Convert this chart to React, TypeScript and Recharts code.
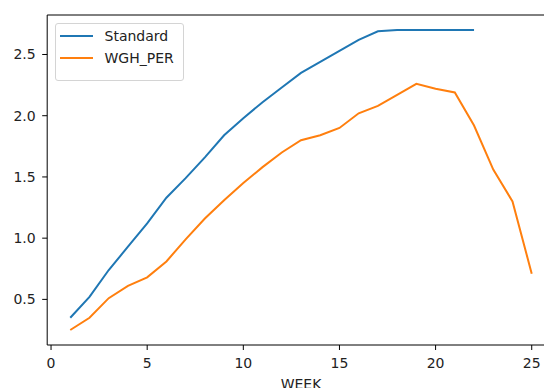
import React from "react";
import { LineChart, Line, XAxis, YAxis, Legend, ReferenceLine } from "recharts";

const weeks = [1, 2, 3, 4, 5, 6, 7, 8, 9, 10, 11, 12, 13, 14, 15, 16, 17, 18, 19, 20, 21, 22, 23, 24, 25];
const standard = [0.35, 0.52, 0.74, 0.93, 1.12, 1.33, 1.49, 1.66, 1.84, 1.98, 2.11, 2.23, 2.35, 2.44, 2.53, 2.62, 2.69, 2.7, 2.7, 2.7, 2.7, 2.7];
const wghPer = [0.25, 0.35, 0.51, 0.61, 0.68, 0.81, 0.99, 1.16, 1.31, 1.45, 1.58, 1.7, 1.8, 1.84, 1.9, 2.02, 2.08, 2.17, 2.26, 2.22, 2.19, 1.92, 1.56, 1.3, 0.71];
const xTicks = [0, 5, 10, 15, 20, 25];
const yTicks = [0.5, 1.0, 1.5, 2.0, 2.5];

const data = weeks.map((w, i) => ({
  WEEK: w,
  Standard: i < standard.length ? standard[i] : null,
  WGH_PER: wghPer[i],
}));

const FONT = "'DejaVu Sans', sans-serif";
const TEXT = "#222";
const Y_MIN = 0.1275;
const Y_MAX = 2.8225;

const LegendBox = (props: any) => {
  const payload = props.payload || [];
  return (
    <div
      style={{
        width: 129,
        height: 58,
        boxSizing: "border-box",
        border: "1px solid #d4d4d4",
        borderRadius: 3,
        background: "rgba(255,255,255,0.8)",
        paddingTop: 1.5,
        fontFamily: FONT,
        fontSize: 14,
        color: TEXT,
      }}
    >
      {payload.map((p: any) => (
        <div key={p.value} style={{ display: "flex", alignItems: "center", height: 21.6 }}>
          <span style={{ display: "inline-block", marginLeft: 4, width: 33, height: 2, background: p.color }} />
          <span style={{ marginLeft: 11.5, lineHeight: "16px" }}>{p.value}</span>
        </div>
      ))}
    </div>
  );
};

export default function App() {
  return (
    <div style={{ position: "fixed", left: 0, top: 0, width: 544, height: 388, overflow: "hidden", background: "#fff" }}>
      <LineChart
        width={570}
        height={388}
        data={data}
        margin={{ top: 15, right: 15.2, bottom: 0, left: 0 }}
      >
        <XAxis
          dataKey="WEEK"
          type="number"
          domain={[-0.2, 26.2]}
          ticks={xTicks}
          allowDataOverflow
          height={43}
          stroke="#000"
          tickSize={5}
          tickMargin={8.5}
          tick={{ fill: TEXT, fontSize: 14, fontFamily: FONT }}
          label={{ value: "WEEK", position: "insideBottom", offset: -0.5, fill: TEXT, fontSize: 14, fontFamily: FONT }}
        />
        <YAxis
          type="number"
          domain={[Y_MIN, Y_MAX]}
          ticks={yTicks}
          allowDataOverflow
          width={47.2}
          stroke="#000"
          tickSize={5}
          tickMargin={6.5}
          tickFormatter={(v: number) => v.toFixed(1)}
          tick={{ fill: TEXT, fontSize: 14, fontFamily: FONT }}
        />
        <ReferenceLine y={Y_MAX} stroke="#000" ifOverflow="visible" />
        <Legend
          layout="vertical"
          align="center"
          verticalAlign="middle"
          content={<LegendBox />}
          wrapperStyle={{ left: 55, top: 23, width: 129, height: 58 }}
        />
        <Line
          type="linear"
          dataKey="Standard"
          stroke="#1f77b4"
          strokeWidth={2}
          dot={false}
          isAnimationActive={false}
        />
        <Line
          type="linear"
          dataKey="WGH_PER"
          stroke="#ff7f0e"
          strokeWidth={2}
          dot={false}
          isAnimationActive={false}
        />
      </LineChart>
    </div>
  );
}
